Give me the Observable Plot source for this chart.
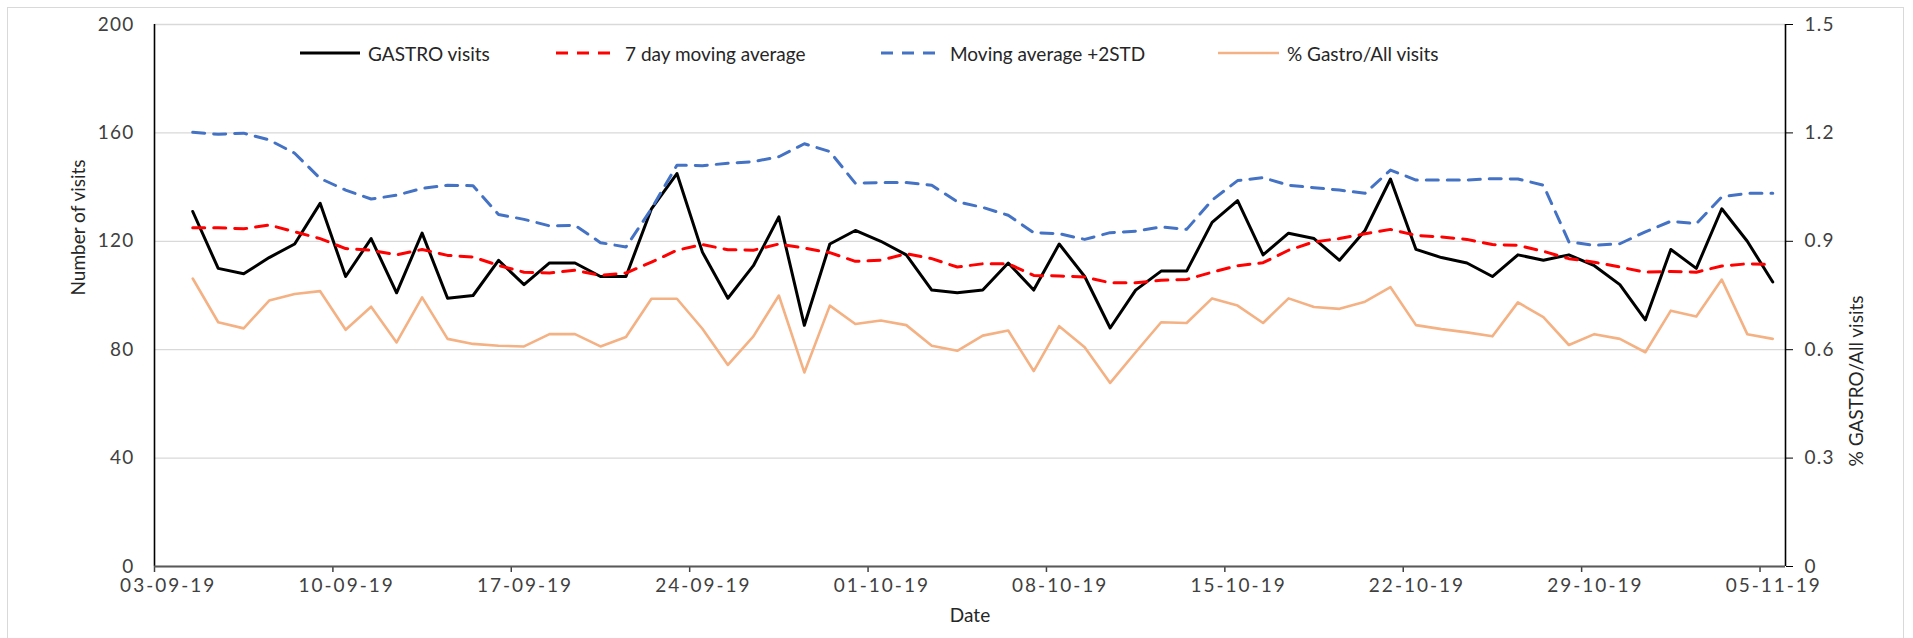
<!DOCTYPE html>
<html><head><meta charset="utf-8">
<script src="https://cdn.jsdelivr.net/npm/d3@7"></script>
<script src="https://cdn.jsdelivr.net/npm/@observablehq/plot@0.6"></script>
<style>
html,body{margin:0;padding:0;background:#fff;overflow:hidden;width:1913px;height:638px}
#wrap{position:relative;width:1913px;height:638px;overflow:hidden}
#border{position:absolute;left:7px;top:7px;width:1897px;height:700px;border:1px solid #d9d9d9;box-sizing:border-box}
#chart{position:absolute;left:0;top:0}
.lt{position:absolute;top:53px;transform:translateY(-50%);font-family:Lato,sans-serif;font-size:19px;color:#262626;white-space:nowrap;line-height:1}
.ls{position:absolute;top:47px}
#chart g[aria-label="x-axis tick label"] text{letter-spacing:2px}
#chart g[aria-label="y-axis tick label"] text{letter-spacing:1.2px}
</style></head>
<body><div id="wrap"><div id="border"></div><div id="chart"></div><div id="legend"></div></div>
<script>
// ---- data ----
const firstDate = "2019-09-04", lastDate = "2019-11-05";
const visits = [131,110,108,114,119,134,107,121,101,123,99,100,113,104,112,112,107,107,132,145,116,99,111,129,89,119,124,120,115,102,101,102,112,102,119,107,88,102,109,109,127,135,115,123,121,113,124,143,117,114,112,107,115,113,115,111,104,91,117,110,132,120,105];
const movingAvg = [125,125,124.6,126,123.5,121,117.3,116.7,115,117,114.8,114.2,111.1,108.6,108.3,109.3,107.4,108.3,112.3,116.7,118.8,116.9,116.7,119,117.5,115.8,112.6,113,115.4,113.6,110.5,111.7,111.7,107.4,107.2,106.8,104.7,104.7,105.6,105.9,108.6,111,112.1,116.7,119.8,121,122.8,124.4,122.2,121.6,120.7,118.8,118.5,116.3,113.6,112.3,110.5,108.6,108.9,108.6,110.9,111.7,111.4];
const movingAvgPlus2SD = [160.2,159.5,159.9,157.4,152.5,143.2,138.9,135.6,137,139.5,140.7,140.5,129.9,128.1,125.7,125.9,119.5,117.9,132,148.1,147.9,148.8,149.4,151.2,156,153.1,141.4,141.7,141.7,140.7,134.6,132.5,129.6,123.2,122.8,120.7,123.2,123.7,125.3,124.4,135.2,142.4,143.5,140.7,139.8,138.9,137.7,146.3,142.6,142.6,142.6,143.1,143,140.7,119.8,118.5,119.1,123.5,127.4,126.5,136.4,137.7,137.7];
const pctGastroAll = [0.797,0.676,0.659,0.736,0.754,0.762,0.655,0.719,0.620,0.745,0.630,0.616,0.611,0.609,0.643,0.643,0.609,0.635,0.741,0.741,0.658,0.558,0.637,0.750,0.537,0.722,0.671,0.681,0.668,0.611,0.597,0.639,0.653,0.541,0.665,0.607,0.508,0.593,0.676,0.674,0.742,0.722,0.674,0.742,0.718,0.713,0.733,0.773,0.668,0.657,0.648,0.637,0.731,0.690,0.613,0.643,0.630,0.593,0.708,0.692,0.794,0.643,0.630];
const xTickLabels = ["03-09-19","10-09-19","17-09-19","24-09-19","01-10-19","08-10-19","15-10-19","22-10-19","29-10-19","05-11-19"];
const yTicks = [0,40,80,120,160,200];
const yRightTicks = [0,0.3,0.6,0.9,1.2,1.5];
const seriesNames = ["GASTRO visits","7 day moving average","Moving average +2STD","% Gastro/All visits"];
const seriesColors = ["#000000","#FF0000","#4472C4","#F4B183"];

// ---- build ----
const parseTick = d3.utcParse("%d-%m-%y");
const fmtTick = d3.utcFormat("%d-%m-%y");
const dates = d3.utcDay.range(new Date(firstDate), d3.utcDay.offset(new Date(lastDate), 1));
const data = dates.map((d, i) => ({
  date: d3.utcHour.offset(d, 12),
  visits: visits[i], ma: movingAvg[i], ma2: movingAvgPlus2SD[i], pct: pctGastroAll[i]
}));
const k = yTicks[yTicks.length - 1] / yRightTicks[yRightTicks.length - 1];
const tickDates = xTickLabels.map(parseTick);
const xDomain = [tickDates[0], d3.utcDay.offset(tickDates[tickDates.length - 1], 1)];
const fmtRight = d => { const r = Math.round(d / k * 10) / 10; return r === 0 ? "0" : r.toFixed(1); };

const chart = Plot.plot({
  width: 1913, height: 638,
  marginLeft: 154, marginRight: 128, marginTop: 24, marginBottom: 72,
  style: {fontFamily: "Lato, sans-serif", fontSize: "19px", color: "#404040", background: "transparent"},
  x: {type: "utc", domain: xDomain},
  y: {domain: [yTicks[0], yTicks[yTicks.length - 1]]},
  marks: [
    Plot.ruleY(yTicks, {stroke: "#d9d9d9", strokeWidth: 1.3}),
    Plot.axisY({ticks: yTicks, tickSize: 0, tickPadding: 20, tickFormat: d => String(d), label: null}),
    Plot.axisY({anchor: "right", ticks: yRightTicks.map(t => t * k), tickSize: 7, tickPadding: 12, tickFormat: fmtRight, label: null, stroke: "#000"}),
    Plot.axisX({ticks: tickDates, tickSize: 6, tickFormat: () => "", label: null, stroke: "#404040", strokeWidth: 1.5}),
    Plot.axisX({ticks: tickDates.map(d => d3.utcHour.offset(d, 12)), tickSize: 0, tickPadding: 12, tickFormat: fmtTick, label: null, dx: 1}),
    Plot.ruleX(xDomain, {stroke: "#000", strokeWidth: 1.6}),
    Plot.ruleY([0], {stroke: "#595959", strokeWidth: 2}),
    Plot.line(data, {x: "date", y: "visits", stroke: seriesColors[0], strokeWidth: 3, strokeLinejoin: "round"}),
    Plot.line(data, {x: "date", y: "ma", stroke: seriesColors[1], strokeWidth: 3, strokeDasharray: "12,9"}),
    Plot.line(data, {x: "date", y: "ma2", stroke: seriesColors[2], strokeWidth: 3, strokeDasharray: "12,9"}),
    Plot.line(data, {x: "date", y: d => d.pct * k, stroke: seriesColors[3], strokeWidth: 2.6, strokeLinejoin: "round"}),
    Plot.text(["Date"], {text: d => d, frameAnchor: "bottom", dy: 55, fill: "#262626", fontSize: 19}),
    Plot.text(["Number of visits"], {text: d => d, frameAnchor: "left", dx: -76, rotate: -90, fill: "#262626", fontSize: 19}),
    Plot.text(["% GASTRO/All visits"], {text: d => d, frameAnchor: "right", dx: 71, rotate: -90, fill: "#262626", fontSize: 19})
  ]
});
document.getElementById("chart").appendChild(chart);

// ---- legend (HTML overlay inside plot area) ----
const legend = document.getElementById("legend");
const legendLayout = [
  {sx: 300, sw: 60, tx: 368, dash: null},
  {sx: 556, sw: 62, tx: 625, dash: "12,9"},
  {sx: 881, sw: 62, tx: 950, dash: "12,9"},
  {sx: 1218, sw: 61, tx: 1287, dash: null}
];
seriesNames.forEach((name, i) => {
  const L = legendLayout[i];
  const svg = document.createElementNS("http://www.w3.org/2000/svg", "svg");
  svg.setAttribute("class", "ls");
  svg.setAttribute("width", L.sw); svg.setAttribute("height", 12);
  svg.style.left = L.sx + "px";
  const ln = document.createElementNS("http://www.w3.org/2000/svg", "line");
  ln.setAttribute("x1", 0); ln.setAttribute("x2", L.sw); ln.setAttribute("y1", 6); ln.setAttribute("y2", 6);
  ln.setAttribute("stroke", seriesColors[i]); ln.setAttribute("stroke-width", i === 3 ? 2.6 : 3);
  if (L.dash) ln.setAttribute("stroke-dasharray", L.dash);
  svg.appendChild(ln);
  legend.appendChild(svg);
  const t = document.createElement("div");
  t.className = "lt"; t.style.left = L.tx + "px"; t.textContent = name;
  legend.appendChild(t);
});
</script>
</body></html>
